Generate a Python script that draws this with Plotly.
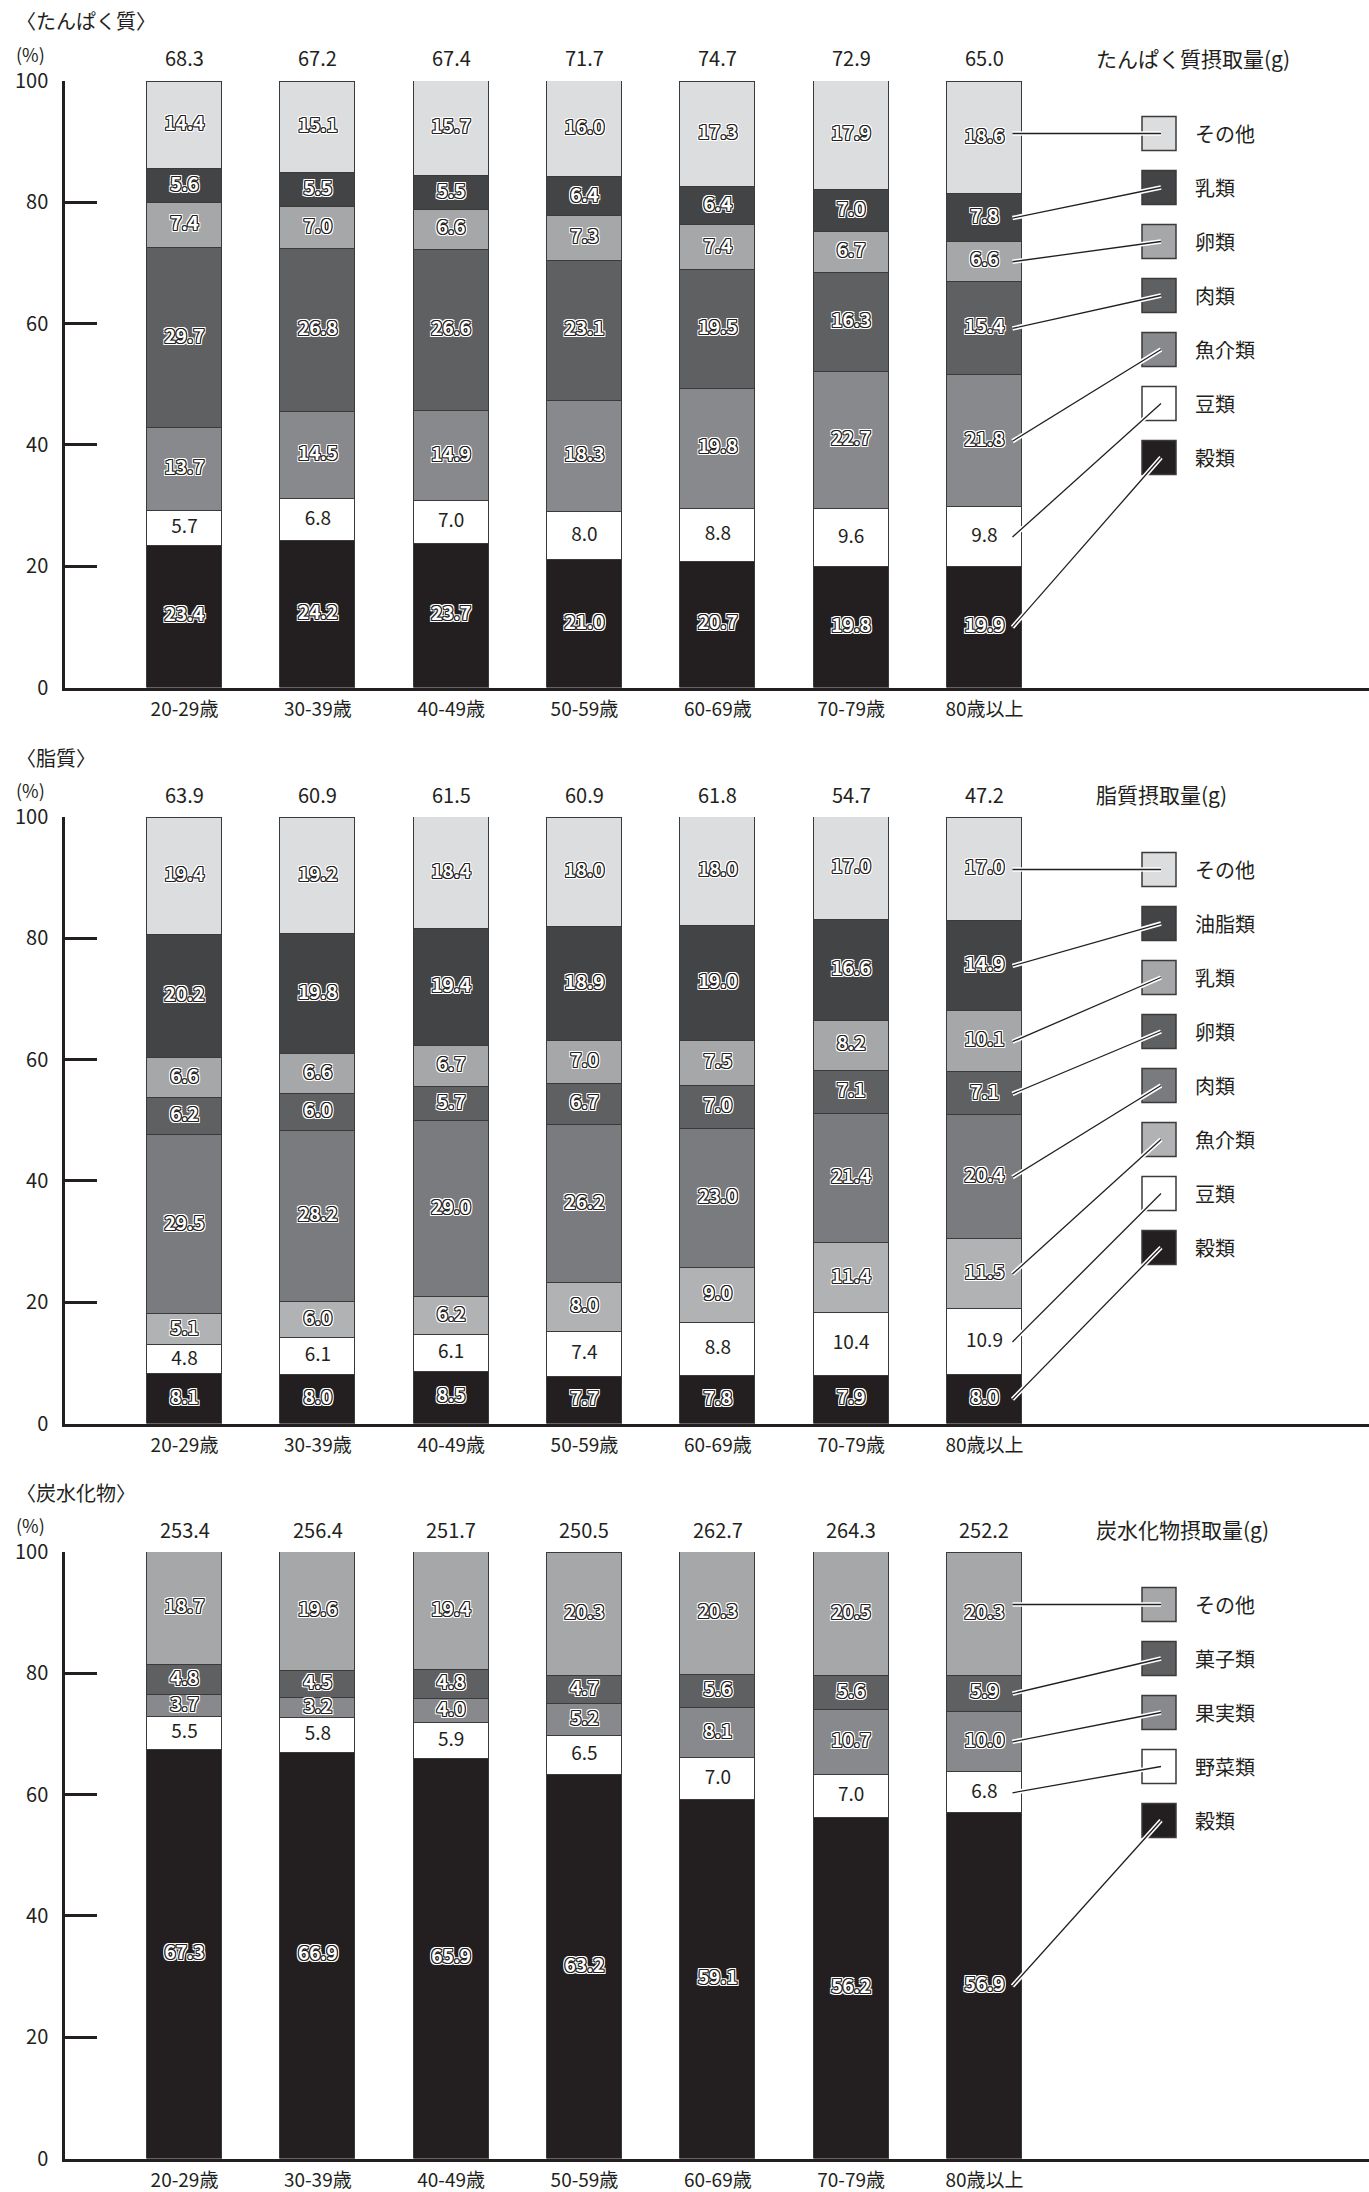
import plotly.graph_objects as go

# ---------------- data ----------------
ages = ["20-29歳", "30-39歳", "40-49歳", "50-59歳", "60-69歳", "70-79歳", "80歳以上"]

# たんぱく質 (bottom -> top)
protein_total = [68.3, 67.2, 67.4, 71.7, 74.7, 72.9, 65.0]
protein_cats = ["穀類", "豆類", "魚介類", "肉類", "卵類", "乳類", "その他"]
protein_grain = [23.4, 24.2, 23.7, 21.0, 20.7, 19.8, 19.9]
protein_beans = [5.7, 6.8, 7.0, 8.0, 8.8, 9.6, 9.8]
protein_fish = [13.7, 14.5, 14.9, 18.3, 19.8, 22.7, 21.8]
protein_meat = [29.7, 26.8, 26.6, 23.1, 19.5, 16.3, 15.4]
protein_egg = [7.4, 7.0, 6.6, 7.3, 7.4, 6.7, 6.6]
protein_milk = [5.6, 5.5, 5.5, 6.4, 6.4, 7.0, 7.8]
protein_other = [14.4, 15.1, 15.7, 16.0, 17.3, 17.9, 18.6]

# 脂質 (bottom -> top)
fat_total = [63.9, 60.9, 61.5, 60.9, 61.8, 54.7, 47.2]
fat_cats = ["穀類", "豆類", "魚介類", "肉類", "卵類", "乳類", "油脂類", "その他"]
fat_grain = [8.1, 8.0, 8.5, 7.7, 7.8, 7.9, 8.0]
fat_beans = [4.8, 6.1, 6.1, 7.4, 8.8, 10.4, 10.9]
fat_fish = [5.1, 6.0, 6.2, 8.0, 9.0, 11.4, 11.5]
fat_meat = [29.5, 28.2, 29.0, 26.2, 23.0, 21.4, 20.4]
fat_egg = [6.2, 6.0, 5.7, 6.7, 7.0, 7.1, 7.1]
fat_milk = [6.6, 6.6, 6.7, 7.0, 7.5, 8.2, 10.1]
fat_oil = [20.2, 19.8, 19.4, 18.9, 19.0, 16.6, 14.9]
fat_other = [19.4, 19.2, 18.4, 18.0, 18.0, 17.0, 17.0]

# 炭水化物 (bottom -> top)
carb_total = [253.4, 256.4, 251.7, 250.5, 262.7, 264.3, 252.2]
carb_cats = ["穀類", "野菜類", "果実類", "菓子類", "その他"]
carb_grain = [67.3, 66.9, 65.9, 63.2, 59.1, 56.2, 56.9]
carb_veg = [5.5, 5.8, 5.9, 6.5, 7.0, 7.0, 6.8]
carb_fruit = [3.7, 3.2, 4.0, 5.2, 8.1, 10.7, 10.0]
carb_sweets = [4.8, 4.5, 4.8, 4.7, 5.6, 5.6, 5.9]
carb_other = [18.7, 19.6, 19.4, 20.3, 20.3, 20.5, 20.3]

y_ticks = [0, 20, 40, 60, 80, 100]

# ---------------- styles ----------------
W, H = 1369, 2192
ML = 65
PLOT_W = W - ML
FONT = "Noto Sans CJK JP"
INK = "#231f20"

C_BLACK = "#231f20"
C_DARK = "#434446"
C_DGRAY = "#5f6062"
C_MGRAY = "#7a7b7e"
C_GRAY = "#88898c"
C_LGRAY = "#a6a7a9"
C_LLGRAY = "#b1b2b4"
C_PALE = "#dcdddf"
C_WHITE = "#ffffff"

panels = [
    dict(title="〈たんぱく質〉", ltitle="たんぱく質摂取量(g)", total=protein_total,
         cats=protein_cats,
         series=[protein_grain, protein_beans, protein_fish, protein_meat,
                 protein_egg, protein_milk, protein_other],
         colors=[C_BLACK, C_WHITE, C_GRAY, C_DGRAY, C_LGRAY, C_DARK, C_PALE],
         top=81.0),
    dict(title="〈脂質〉", ltitle="脂質摂取量(g)", total=fat_total,
         cats=fat_cats,
         series=[fat_grain, fat_beans, fat_fish, fat_meat, fat_egg, fat_milk,
                 fat_oil, fat_other],
         colors=[C_BLACK, C_WHITE, C_LLGRAY, C_MGRAY, C_DGRAY, C_LGRAY, C_DARK, C_PALE],
         top=817.0),
    dict(title="〈炭水化物〉", ltitle="炭水化物摂取量(g)", total=carb_total,
         cats=carb_cats,
         series=[carb_grain, carb_veg, carb_fruit, carb_sweets, carb_other],
         colors=[C_BLACK, C_WHITE, C_GRAY, C_DGRAY, C_LGRAY],
         top=1552.0),
]
SPAN = 606.5          # px for 0..100
PXU = SPAN / 100.0

# x axis mapping: bar i centred at 184.5 + 133.33*i px
K = 133.33
X0 = -(184.5 - ML) / K
X1 = X0 + PLOT_W / K
BAR_W = 0.5625


def xd(px):
    return X0 + (px - ML) / K


def ydat(py, p):
    zero = p["top"] + SPAN
    return (zero - py) / PXU


_o = [(1, 0), (-1, 0), (0, 1), (0, -1), (1, 1), (-1, -1), (1, -1), (-1, 1)]
_w = [(2, 0), (-2, 0), (0, 2), (0, -2), (2, 2), (-2, -2), (2, -2), (-2, 2)]
OUTLINE = ", ".join([f"{a}px {b}px 0 {INK}" for a, b in _o] +
                    [f"{a}px {b}px 0 #ffffff" for a, b in _w])

fig = go.Figure()
shapes = []
annotations = []
xs = list(range(len(ages)))

for n, p in enumerate(panels):
    s = "" if n == 0 else str(n + 1)
    xa, ya = "x" + s, "y" + s
    top = p["top"]
    zero = top + SPAN
    dom = [1 - zero / H, 1 - top / H]

    # bars
    for vals, col, cat in zip(p["series"], p["colors"], p["cats"]):
        fig.add_trace(go.Bar(
            x=xs, y=vals, width=BAR_W, name=cat,
            marker=dict(color=col, line=dict(color="#3a3a3a", width=1)),
            xaxis=xa, yaxis=ya, showlegend=False, hoverinfo="skip"))

    # labels
    bottoms = [0.0] * len(xs)
    mids = []
    for vals, col in zip(p["series"], p["colors"]):
        m = [b + v / 2 for b, v in zip(bottoms, vals)]
        mids.append(m)
        txt = [f"{v:.1f}" for v in vals]
        if col == C_WHITE:
            tf = dict(family=FONT, size=19, color=INK)
        else:
            tf = dict(family=FONT, size=19, color="#ffffff", weight=700, shadow=OUTLINE)
        fig.add_trace(go.Scatter(
            x=xs, y=m, text=txt, mode="text", textposition="middle center",
            textfont=tf, xaxis=xa, yaxis=ya, showlegend=False, hoverinfo="skip"))
        bottoms = [b + v for b, v in zip(bottoms, vals)]

    # totals above bars
    for i, t in enumerate(p["total"]):
        annotations.append(dict(
            x=i, y=100, xref=xa, yref=ya, text=f"{t:.1f}", showarrow=False,
            yshift=23, yanchor="middle", xanchor="center",
            font=dict(family=FONT, size=20, color=INK)))

    # panel title & unit
    annotations.append(dict(
        x=(14 - ML) / PLOT_W, y=1 - (top - 60) / H, xref="paper", yref="paper",
        text=p["title"], showarrow=False, xanchor="left", yanchor="middle",
        font=dict(family=FONT, size=20, color=INK)))
    annotations.append(dict(
        x=(14 - ML) / PLOT_W, y=1 - (top - 27) / H, xref="paper", yref="paper",
        text="(%)", showarrow=False, xanchor="left", yanchor="middle",
        font=dict(family=FONT, size=18, color=INK)))

    # legend title
    annotations.append(dict(
        x=xd(1094), y=100, xref=xa, yref=ya, text=p["ltitle"], showarrow=False,
        yshift=23, xanchor="left", yanchor="middle",
        font=dict(family=FONT, size=21, color=INK)))

    # legend boxes + leader lines
    ncat = len(p["cats"])
    last = len(xs) - 1
    lines = []
    for k in range(ncat):
        j = ncat - 1 - k  # category index from bottom
        cy_px = top + 52.5 + 54 * k
        cy = ydat(cy_px, p)
        shapes.append(dict(
            type="rect", xref=xa, yref=ya,
            x0=xd(1142), x1=xd(1176), y0=ydat(cy_px + 17, p), y1=ydat(cy_px - 17, p),
            fillcolor=p["colors"][j], line=dict(color="#3a3a3a", width=1.5),
            layer="above"))
        annotations.append(dict(
            x=xd(1193), y=cy, xref=xa, yref=ya, text=p["cats"][j], showarrow=False,
            xanchor="left", yanchor="middle",
            font=dict(family=FONT, size=20, color=INK)))
        ystart = mids[j][last]
        if k == 0:
            ystart = cy
        lines.append((last + 28 / K, ystart, xd(1161), cy))
    for (lx0, ly0, lx1, ly1) in lines:
        shapes.append(dict(type="line", xref=xa, yref=ya, x0=lx0, y0=ly0, x1=lx1, y1=ly1,
                           line=dict(color="#ffffff", width=4.5), layer="above"))
    for (lx0, ly0, lx1, ly1) in lines:
        shapes.append(dict(type="line", xref=xa, yref=ya, x0=lx0, y0=ly0, x1=lx1, y1=ly1,
                           line=dict(color=INK, width=1.3), layer="above"))

    xaxis = dict(domain=[0, 1], range=[X0, X1], anchor=ya, tickmode="array",
                 tickvals=xs, ticktext=ages, ticks="", showgrid=False, zeroline=False,
                 showline=True, linecolor=INK, linewidth=2.5, automargin=False,
                 tickfont=dict(family=FONT, size=19, color=INK), ticklabelstandoff=3,
                 fixedrange=True)
    yaxis = dict(domain=dom, range=[0, 100], anchor=xa, tickmode="array",
                 tickvals=y_ticks, ticks="inside", ticklen=32, tickwidth=2.5,
                 tickcolor=INK, showgrid=False, zeroline=False, showline=True,
                 linecolor=INK, linewidth=2.5, automargin=False,
                 tickfont=dict(family=FONT, size=20, color=INK), ticklabelstandoff=10,
                 fixedrange=True)
    fig.update_layout(**{"xaxis" + s: xaxis, "yaxis" + s: yaxis})

fig.update_layout(
    width=W, height=H, barmode="stack", bargap=0,
    margin=dict(l=ML, r=0, t=0, b=0, pad=0),
    paper_bgcolor="#ffffff", plot_bgcolor="#ffffff",
    shapes=shapes, annotations=annotations, showlegend=False,
    font=dict(family=FONT, color=INK),
)

fig.write_html("out.html")
